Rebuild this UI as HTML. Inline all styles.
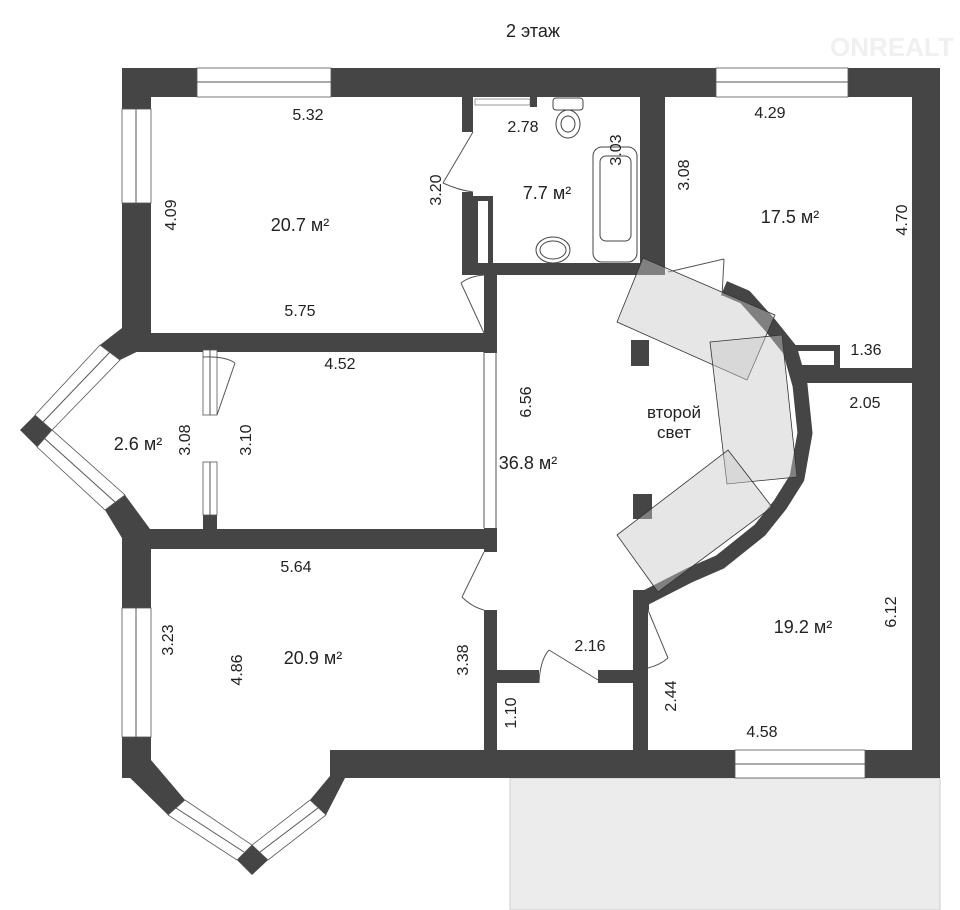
<!DOCTYPE html>
<html><head><meta charset="utf-8"><style>
html,body{margin:0;padding:0;background:#fff;}
svg{display:block;}
text{font-family:"Liberation Sans",sans-serif;fill:#222;}
</style></head><body>
<svg width="960" height="910" viewBox="0 0 960 910" xmlns="http://www.w3.org/2000/svg">
<rect x="510" y="778" width="430" height="132" fill="#ececec" stroke="#ccc" stroke-width="1"/>
<text x="533" y="37" font-size="18" text-anchor="middle">2 этаж</text>
<text x="830" y="56" font-size="26" style="fill:#f0f0f0" font-weight="bold">ONREALT</text>

<g fill="#454545">
<rect x="122" y="68" width="818" height="29"/>
<rect x="912" y="68" width="28" height="710"/>
<rect x="122" y="68" width="29" height="265"/>
<rect x="122" y="333" width="375" height="19"/>
<rect x="122" y="529" width="375" height="20"/>
<rect x="122" y="529" width="29" height="249"/>
<rect x="330" y="750" width="610" height="28"/>
<polygon points="122,750 151,750 151,765 122,778"/>
<polygon points="122,328 151,333 151,345 120,360 100,345"/>
<polygon points="20,430 35,415 52,430 37,447"/>
<polygon points="105,510 125,495 150,529 150,548 128,548"/>
<polygon points="122,750 151,760 185,800 168,815 122,770"/>
<polygon points="237,860 252,845 268,860 252,875"/>
<polygon points="310,800 335,770 345,750 345,778 326,815"/>
<rect x="203" y="515" width="14" height="16"/>
<rect x="484" y="275" width="13" height="78"/>
<rect x="484" y="528" width="13" height="24"/>
<rect x="484" y="610" width="13" height="140"/>
<rect x="484" y="670" width="55" height="13"/>
<rect x="598" y="670" width="50" height="13"/>
<rect x="633" y="610" width="15" height="140"/>
<rect x="462" y="97" width="11" height="35"/>
<rect x="462" y="192" width="11" height="83"/>
<rect x="473" y="196" width="20" height="67"/>
<rect x="462" y="263" width="178" height="12"/>
<rect x="640" y="97" width="25" height="178"/>
<rect x="530" y="97" width="7" height="10"/>
<rect x="800" y="368" width="140" height="15"/>
<polygon points="793,345 840,345 840,370 793,370"/>
<rect x="631" y="340" width="18" height="26"/>
<rect x="633" y="494" width="19" height="25"/>
<rect x="633" y="590" width="16" height="20"/>
</g>
<rect x="798" y="351" width="36" height="14" fill="#fff"/>
<rect x="478" y="201" width="10" height="62" fill="#fff"/>
<rect x="475" y="99" width="55" height="6" fill="#fff" stroke="#555" stroke-width="0.6"/>

<polyline points="724,288 745,297 770,325 790,350 800,385 805,433 797,478 780,505 760,530 720,562 690,575 645,598" fill="none" stroke="#454545" stroke-width="15" stroke-linejoin="round"/>

<g fill="#fff" stroke="#555" stroke-width="0.8">
<rect x="197" y="68" width="134" height="29"/>
<rect x="716" y="68" width="132" height="29"/>
<rect x="735" y="750" width="130" height="28"/>
<rect x="122" y="109" width="29" height="94"/>
<rect x="122" y="608" width="29" height="129"/>
<rect x="203" y="350" width="14" height="65"/>
<rect x="203" y="462" width="14" height="53"/>
<polygon points="100,345 120,360 52,430 35,415"/>
<polygon points="37,447 52,430 125,495 105,510"/>
<polygon points="168,815 185,800 252,845 237,860"/>
<polygon points="268,860 252,845 310,800 326,815"/>
</g>
<g stroke="#555" stroke-width="1" fill="none">
<line x1="197" y1="82" x2="331" y2="82"/><line x1="716" y1="82" x2="848" y2="82"/>
<line x1="735" y1="764" x2="865" y2="764"/><line x1="136" y1="109" x2="136" y2="203"/>
<line x1="136" y1="608" x2="136" y2="737"/><line x1="210" y1="350" x2="210" y2="415"/><line x1="210" y1="462" x2="210" y2="515"/>
<line x1="110" y1="352" x2="43" y2="422"/><line x1="44" y1="438" x2="115" y2="502"/>
<line x1="176" y1="808" x2="244" y2="852"/><line x1="260" y1="852" x2="318" y2="808"/>
<line x1="484" y1="352" x2="484" y2="528"/><line x1="496" y1="352" x2="496" y2="528"/>
<line x1="473" y1="132" x2="443" y2="183"/><path d="M443,183 Q458,190 473,192"/>
<line x1="484" y1="333" x2="461" y2="283"/><path d="M461,283 Q470,276 484,275"/>
<line x1="484" y1="552" x2="462" y2="597"/><path d="M462,597 Q472,607 484,610"/>
<line x1="217" y1="415" x2="235" y2="363"/><path d="M203,357 Q225,356 235,363"/>
<line x1="598" y1="680" x2="549" y2="650"/><path d="M539,683 Q540,660 549,650"/>
<line x1="648" y1="610" x2="668" y2="658"/><path d="M668,658 Q660,665 648,668"/>
<line x1="668" y1="272" x2="724" y2="259"/><line x1="724" y1="259" x2="722" y2="296"/>
</g>
<g fill="rgba(200,200,200,0.45)" stroke="#333" stroke-width="0.8">
<polygon points="643,258 775,315 747,380 617,322"/>
<polygon points="710,342 782,335 797,477 727,484"/>
<polygon points="728,450 772,507 658,592 617,535"/>
</g>
<g fill="#fff" stroke="#444" stroke-width="1">
<rect x="553" y="98" width="30" height="12" rx="3"/>
<ellipse cx="568" cy="124" rx="12" ry="14"/><ellipse cx="568" cy="124" rx="7" ry="8"/>
<rect x="593" y="147" width="44" height="115" rx="9"/>
<rect x="600" y="156" width="31" height="85" rx="6"/>
<ellipse cx="553" cy="250" rx="17" ry="13"/><ellipse cx="553" cy="250" rx="13" ry="9"/>
</g>

<g font-size="16">
<text x="308" y="120" text-anchor="middle">5.32</text>
<text x="300" y="231" text-anchor="middle" font-size="18">20.7 м²</text>
<text x="300" y="316" text-anchor="middle">5.75</text>
<text x="340" y="369" text-anchor="middle">4.52</text>
<text x="138" y="450" text-anchor="middle" font-size="18">2.6 м²</text>
<text x="296" y="572" text-anchor="middle">5.64</text>
<text x="313" y="664" text-anchor="middle" font-size="18">20.9 м²</text>
<text x="528" y="469" text-anchor="middle" font-size="18">36.8 м²</text>
<text x="674" y="418" text-anchor="middle" font-size="17">второй</text>
<text x="674" y="438" text-anchor="middle" font-size="17">свет</text>
<text x="523" y="132" text-anchor="middle">2.78</text>
<text x="547" y="199" text-anchor="middle" font-size="18">7.7 м²</text>
<text x="770" y="118" text-anchor="middle">4.29</text>
<text x="790" y="223" text-anchor="middle" font-size="18">17.5 м²</text>
<text x="866" y="355" text-anchor="middle">1.36</text>
<text x="865" y="408" text-anchor="middle">2.05</text>
<text x="803" y="633" text-anchor="middle" font-size="18">19.2 м²</text>
<text x="590" y="651" text-anchor="middle">2.16</text>
<text x="762" y="737" text-anchor="middle">4.58</text>
</g>
<g font-size="16" text-anchor="middle">
<text transform="translate(176,215) rotate(-90)">4.09</text>
<text transform="translate(441,190) rotate(-90)">3.20</text>
<text transform="translate(621,150) rotate(-90)">3.03</text>
<text transform="translate(689,175) rotate(-90)">3.08</text>
<text transform="translate(907,220) rotate(-90)">4.70</text>
<text transform="translate(531,402) rotate(-90)">6.56</text>
<text transform="translate(190,440) rotate(-90)">3.08</text>
<text transform="translate(251,440) rotate(-90)">3.10</text>
<text transform="translate(173,640) rotate(-90)">3.23</text>
<text transform="translate(242,670) rotate(-90)">4.86</text>
<text transform="translate(468,660) rotate(-90)">3.38</text>
<text transform="translate(516,713) rotate(-90)">1.10</text>
<text transform="translate(676,696) rotate(-90)">2.44</text>
<text transform="translate(896,612) rotate(-90)">6.12</text>
</g>
</svg>
</body></html>
